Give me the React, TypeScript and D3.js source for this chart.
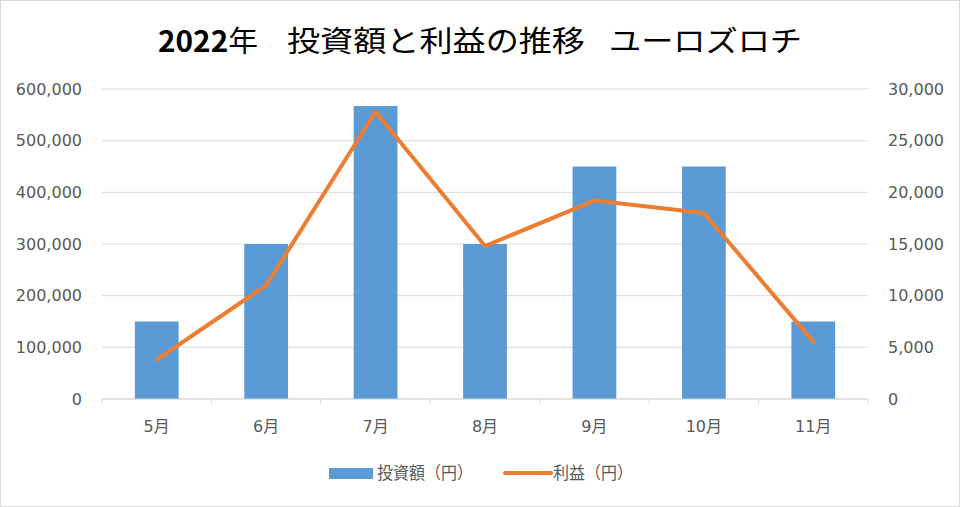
import React from "react";
import * as d3 from "d3";

const months = ["5月", "6月", "7月", "8月", "9月", "10月", "11月"];
const investment = [150000, 300000, 567000, 300000, 450000, 450000, 150000];
const profit = [3800, 11000, 27800, 14800, 19200, 18000, 5550];
const leftTicks = [0, 100000, 200000, 300000, 400000, 500000, 600000];
const rightTicks = [0, 5000, 10000, 15000, 20000, 25000, 30000];
const titleParts = ["2022年", "投資額と利益の推移", "ユーロズロチ"];

const W = 960;
const H = 507;
const m = { top: 89, right: 92, bottom: 108, left: 102 };
const cjk = "'Noto Sans CJK JP', 'Noto Sans', sans-serif";
const num = "'DejaVu Sans', 'Noto Sans CJK JP', sans-serif";
const gray = "#595959";

export default function App() {
  const band = d3.scaleBand().domain(months).range([m.left, W - m.right]);
  const yL = d3.scaleLinear().domain([0, 600000]).range([H - m.bottom, m.top]);
  const yR = d3.scaleLinear().domain([0, 30000]).range([H - m.bottom, m.top]);
  const fmt = d3.format(",");
  const cx = (mo: string) => band(mo)! + band.bandwidth() / 2;
  const line = d3.line<number>()
    .x((d, i) => cx(months[i]))
    .y(d => yR(d));
  const base = yL(0);
  const barW = band.bandwidth() * 0.4;

  // title segments: [start x, length]
  const titlePos = [[158, 100], [287, 298], [609, 193]];

  return (
    <svg width={W} height={H} style={{ position: "absolute", left: 0, top: 0, fontFamily: cjk }}>
      <rect x={0.5} y={0.5} width={W - 1} height={H - 1} fill="#fff" stroke="#d9d9d9" />
      {titleParts.map((t, i) => (
        <text key={t} x={titlePos[i][0]} y={52} fontSize={29} fill="#000"
          textLength={titlePos[i][1]} lengthAdjust="spacingAndGlyphs">
          {i === 0 ? <><tspan fontWeight="bold">2022</tspan>年</> : t}
        </text>
      ))}
      {leftTicks.map(t => (
        <line key={t} x1={m.left} x2={W - m.right} y1={yL(t)} y2={yL(t)} stroke="#d9d9d9" strokeWidth={1} />
      ))}
      {leftTicks.map(t => (
        <text key={"l" + t} x={82} y={yL(t)} dy="0.35em" textAnchor="end" fontSize={16}
          fontFamily={num} fill={gray}>{fmt(t)}</text>
      ))}
      {rightTicks.map(t => (
        <text key={"r" + t} x={888} y={yR(t)} dy="0.35em" textAnchor="start" fontSize={16}
          fontFamily={num} fill={gray}>{fmt(t)}</text>
      ))}
      {months.map((mo, i) => (
        <rect key={mo} x={cx(mo) - barW / 2} y={yL(investment[i])} width={barW}
          height={base - yL(investment[i])} fill="#5b9bd5" />
      ))}
      <line x1={m.left} x2={W - m.right} y1={base} y2={base} stroke="#d9d9d9" />
      {d3.range(months.length + 1).map(i => {
        const xx = m.left + i * band.bandwidth();
        return <line key={"t" + i} x1={xx} x2={xx} y1={base} y2={base + 5} stroke="#d9d9d9" />;
      })}
      {months.map(mo => (
        <text key={"x" + mo} x={cx(mo)} y={426} dy="0.35em" textAnchor="middle" fontSize={16}
          fontFamily={num} fill={gray}>{mo}</text>
      ))}
      <path d={line(profit) || ""} fill="none" stroke="#ed7d31" strokeWidth={4}
        strokeLinejoin="round" strokeLinecap="round" />
      <rect x={329} y={468} width={44} height={11} fill="#5b9bd5" />
      <text x={377} y={473} dy="0.35em" fontSize={17} fill={gray}
        textLength={96} lengthAdjust="spacingAndGlyphs">投資額（円）</text>
      <line x1={505} x2={551} y1={473} y2={473} stroke="#ed7d31" strokeWidth={4} strokeLinecap="round" />
      <text x={553} y={473} dy="0.35em" fontSize={17} fill={gray}
        textLength={80} lengthAdjust="spacingAndGlyphs">利益（円）</text>
    </svg>
  );
}
